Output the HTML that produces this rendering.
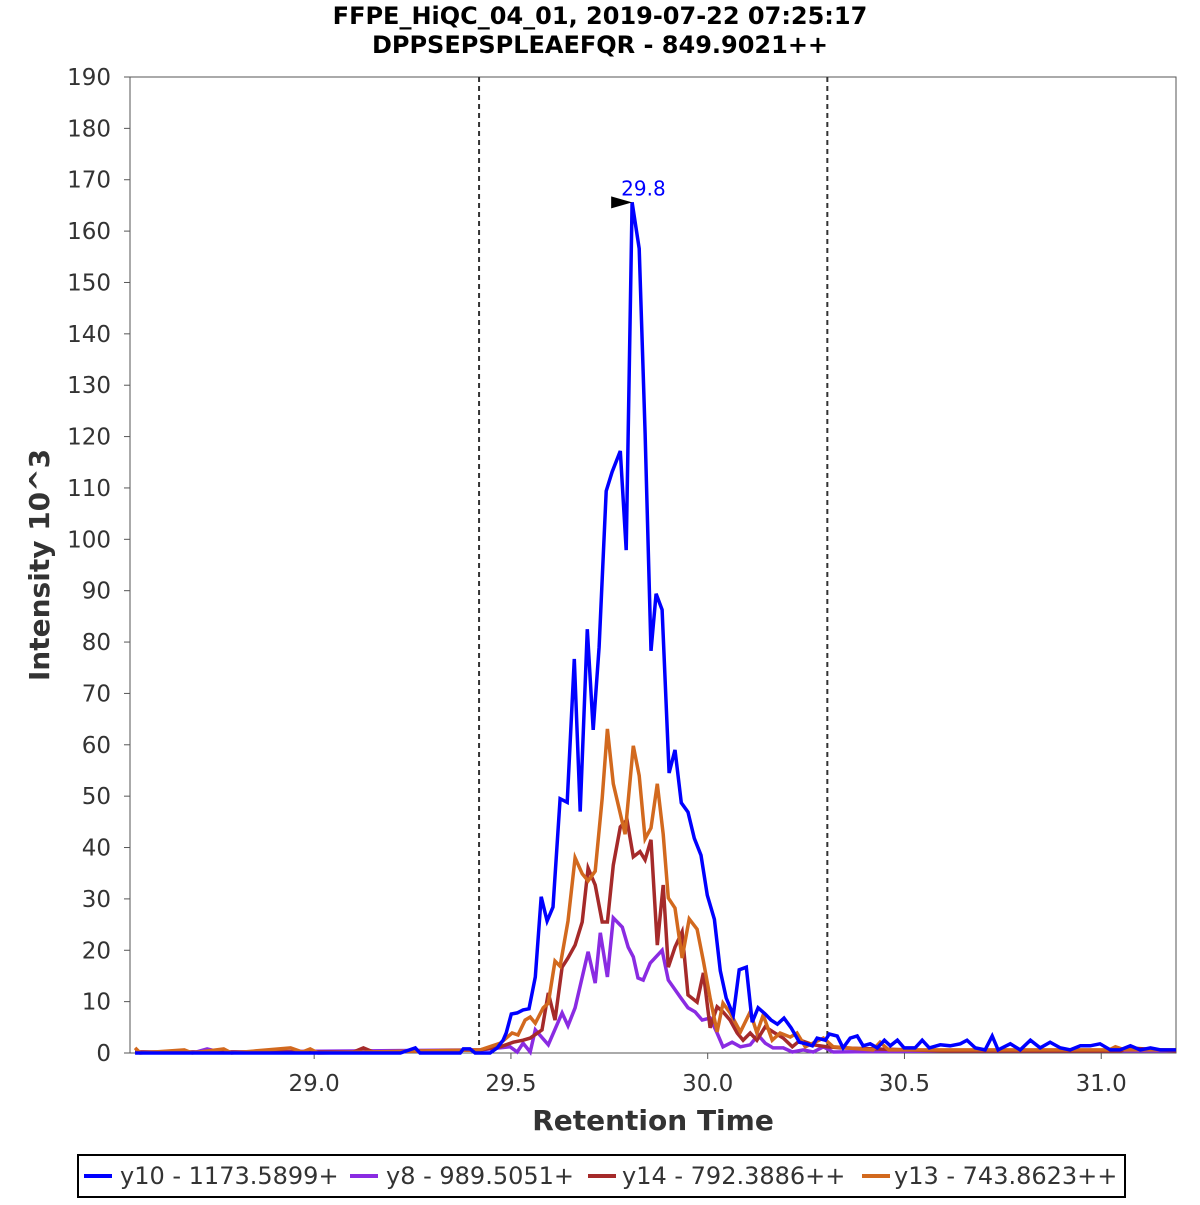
<!DOCTYPE html>
<html><head><meta charset="utf-8"><style>
body{margin:0;background:#fff;}
svg text{font-family:"DejaVu Sans","Liberation Sans",sans-serif;}
</style></head><body>
<svg id="chart" width="1200" height="1200" xmlns="http://www.w3.org/2000/svg">
<rect width="1200" height="1200" fill="#fff"/>
<text x="600" y="24" text-anchor="middle" font-size="24" font-weight="bold" fill="#000">FFPE_HiQC_04_01, 2019-07-22 07:25:17</text>
<text x="600" y="53" text-anchor="middle" font-size="24" font-weight="bold" fill="#000">DPPSEPSPLEAEFQR - 849.9021++</text>
<g id="yticks"></g><g id="xticks"></g>
<rect x="130" y="77" width="1046" height="976" fill="none" stroke="#555" stroke-width="1"/>
<g id="series"></g>
<text transform="translate(49,565) rotate(-90)" text-anchor="middle" font-size="28" font-weight="bold" fill="#333">Intensity 10^3</text>
<text x="653" y="1130" text-anchor="middle" font-size="28" font-weight="bold" fill="#333">Retention Time</text>
<g>
<rect x="78" y="1155" width="1047" height="42" fill="#fff" stroke="#000" stroke-width="2"/>
<line x1="84" y1="1176" x2="112" y2="1176" stroke="#0000ff" stroke-width="4"/>
<text x="120" y="1184" font-size="24" fill="#333">y10 - 1173.5899+</text>
<line x1="350" y1="1176" x2="378" y2="1176" stroke="#8a2be2" stroke-width="4"/>
<text x="386" y="1184" font-size="24" fill="#333">y8 - 989.5051+</text>
<line x1="588" y1="1176" x2="616" y2="1176" stroke="#a52a2a" stroke-width="4"/>
<text x="622" y="1184" font-size="24" fill="#333">y14 - 792.3886++</text>
<line x1="862" y1="1176" x2="890" y2="1176" stroke="#d2691e" stroke-width="4"/>
<text x="894" y="1184" font-size="24" fill="#333">y13 - 743.8623++</text>
</g>
</svg>
<script>
const yTicks=[0,10,20,30,40,50,60,70,80,90,100,110,120,130,140,150,160,170,180,190];
const xTicks=[29.0,29.5,30.0,30.5,31.0];
const boundaries=[29.419,30.304];
const peakRt=29.808, peakVal=165.6, peakLabel="29.8";
const y10Rt=[28.545,29.219,29.257,29.269,29.371,29.379,29.396,29.409,29.447,29.465,29.480,29.488,29.501,29.516,29.531,29.546,29.562,29.577,29.592,29.607,29.625,29.643,29.661,29.676,29.694,29.709,29.724,29.742,29.757,29.778,29.793,29.808,29.826,29.841,29.856,29.869,29.884,29.902,29.917,29.933,29.950,29.966,29.983,29.999,30.017,30.032,30.047,30.065,30.080,30.098,30.113,30.128,30.146,30.161,30.177,30.194,30.212,30.233,30.250,30.266,30.278,30.299,30.309,30.329,30.344,30.362,30.380,30.395,30.413,30.431,30.449,30.464,30.482,30.499,30.527,30.545,30.563,30.591,30.616,30.642,30.659,30.680,30.705,30.723,30.738,30.769,30.794,30.820,30.845,30.870,30.896,30.921,30.947,30.972,30.997,31.023,31.048,31.074,31.099,31.125,31.150,31.19];
const y10Val=[0,0,1.0,0,0,0.8,0.8,0,0,1.0,2.5,3.9,7.6,7.8,8.4,8.6,14.8,30.4,25.7,28.4,49.5,48.8,76.7,47.0,82.5,62.9,79.0,109.4,113.1,117.2,97.9,165.6,156.6,120.7,78.3,89.4,86.3,54.5,59.0,48.7,46.9,41.8,38.5,30.7,26.0,16.0,10.7,7.4,16.2,16.7,6.0,8.8,7.6,6.4,5.6,6.8,4.9,2.1,1.8,1.4,2.9,2.5,3.7,3.3,1.0,2.9,3.3,1.4,1.8,1.0,2.5,1.4,2.5,1.0,1.0,2.5,1.0,1.6,1.4,1.8,2.5,1.0,0.6,3.3,0.6,1.8,0.6,2.5,1.0,2.1,1.0,0.6,1.4,1.4,1.8,0.6,0.6,1.4,0.6,1.0,0.6,0.6];
const y8Rt=[28.545,28.70,28.728,28.76,29.422,29.498,29.516,29.531,29.549,29.562,29.595,29.630,29.645,29.663,29.696,29.714,29.727,29.745,29.760,29.783,29.798,29.811,29.823,29.836,29.854,29.884,29.900,29.930,29.950,29.968,29.986,30.006,30.024,30.039,30.062,30.083,30.108,30.128,30.146,30.166,30.192,30.215,30.243,30.268,30.294,30.319,30.6,30.9,31.19];
const y8Val=[0.2,0.2,0.8,0.2,0.6,1.2,0.2,1.9,0.2,4.5,1.6,7.8,5.3,8.8,19.7,13.6,23.4,14.8,26.3,24.5,20.6,18.7,14.6,14.2,17.5,20.0,14.2,10.9,8.8,8.0,6.4,6.8,3.9,1.2,2.1,1.2,1.6,3.5,1.9,1.0,1.0,0.2,0.6,0.2,1.2,0.2,0.4,0.4,0.4];
const y14Rt=[28.545,29.10,29.125,29.15,29.422,29.473,29.506,29.531,29.549,29.579,29.595,29.612,29.630,29.645,29.663,29.681,29.696,29.714,29.732,29.745,29.760,29.778,29.795,29.811,29.828,29.841,29.856,29.872,29.887,29.900,29.917,29.935,29.950,29.973,29.989,30.006,30.024,30.039,30.057,30.075,30.090,30.108,30.125,30.146,30.166,30.192,30.215,30.235,30.268,30.304,30.337,30.6,31.05,31.07,31.19];
const y14Val=[0.2,0.2,1.0,0.2,0.6,1.2,2.1,2.5,2.9,4.5,11.7,6.4,16.7,18.5,21.0,25.5,36.0,32.7,25.5,25.5,36.6,44.0,45.4,38.2,39.2,37.6,41.5,21.0,32.7,16.7,20.6,23.6,11.3,9.9,15.6,4.9,9.0,8.0,6.4,3.9,2.5,3.9,2.5,5.1,4.1,2.9,1.2,2.5,1.6,1.2,1.0,0.4,0.4,1.0,0.4];
const y13Rt=[28.545,28.558,28.67,28.69,28.77,28.79,28.94,28.97,28.99,29.01,29.422,29.473,29.503,29.518,29.536,29.549,29.562,29.582,29.595,29.612,29.625,29.645,29.663,29.681,29.696,29.714,29.732,29.745,29.760,29.790,29.811,29.826,29.841,29.856,29.872,29.887,29.900,29.917,29.935,29.953,29.973,29.989,30.006,30.024,30.039,30.057,30.083,30.108,30.125,30.141,30.164,30.184,30.210,30.227,30.248,30.294,30.319,30.42,30.438,30.46,31.02,31.036,31.06,31.19];
const y13Val=[1.0,0,0.6,0,0.8,0,1.0,0.2,0.8,0,0.6,1.9,3.9,3.5,6.4,7.0,5.8,8.8,9.7,17.9,16.9,25.7,38.0,34.9,33.5,35.4,49.6,63.1,52.4,42.6,59.8,54.0,41.7,43.8,52.4,42.6,30.2,28.2,18.5,26.1,24.1,17.9,10.7,4.1,9.7,7.8,4.1,8.0,3.9,7.4,2.5,3.9,3.1,3.9,1.2,2.9,1.2,0.6,2.1,0.6,0.6,1.2,0.6,0.6];
const NS='http://www.w3.org/2000/svg';
const X0=130,X1=1176,Y0=1053,Y1=77,RT0=28.532,RT1=31.19,V1=190;
const xs=v=>X0+(v-RT0)/(RT1-RT0)*(X1-X0);
const ys=v=>Y0-v/V1*(Y0-Y1);
function mk(tag,attrs,parent){const e=document.createElementNS(NS,tag);for(const k in attrs)e.setAttribute(k,attrs[k]);parent.appendChild(e);return e;}
const yg=document.getElementById('yticks'),xg=document.getElementById('xticks'),sg=document.getElementById('series');
yTicks.forEach(t=>{const y=ys(t);
 const l=mk('line',{x1:124,x2:130,y1:y,y2:y,stroke:'#555'},yg);
 
 
 const tx=mk('text',{x:111,y:y+8,'text-anchor':'end','font-size':23,fill:'#333'},yg);tx.textContent=t;
 
 
});
xTicks.forEach(t=>{const x=xs(t);
 const l=mk('line',{x1:x,x2:x,y1:1053,y2:1059,stroke:'#555'},xg);
 
 
 const tx=mk('text',{x:x,y:1091,'text-anchor':'middle','font-size':23,fill:'#333'},xg);tx.textContent=t.toFixed(1);
 
 
});
boundaries.forEach(b=>{const x=xs(b);
 const l=mk('line',{x1:x,x2:x,y1:77,y2:1053,stroke:'#333','stroke-width':2,'stroke-dasharray':'5,4'},sg);
 
 
});
const series=[[y8Rt,y8Val,'#8a2be2','series-y8'],[y14Rt,y14Val,'#a52a2a','series-y14'],[y13Rt,y13Val,'#d2691e','series-y13'],[y10Rt,y10Val,'#0000ff','series-y10']];
series.forEach(([r,v,c,n])=>{
 const d=r.map((t,i)=>(i?'L':'M')+xs(t).toFixed(1)+','+ys(v[i]).toFixed(1)).join(' ');
 const p=mk('path',{d:d,fill:'none',stroke:c,'stroke-width':3.5,'stroke-linejoin':'miter'},sg);
 
 
});
const px=xs(peakRt),py=ys(peakVal);
const tri=mk('polygon',{points:`${px},${py} ${px-21},${py-6} ${px-21},${py+6}`,fill:'#000'},sg);


const pl=mk('text',{x:px-11,y:py-7,'font-size':20,fill:'#0000ff'},sg);pl.textContent=peakLabel;


</script>
</body></html>
